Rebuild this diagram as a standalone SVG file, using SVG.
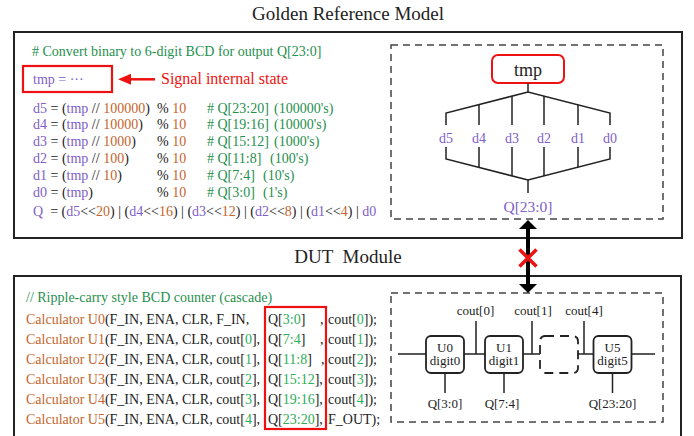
<svg xmlns="http://www.w3.org/2000/svg" width="694" height="436" viewBox="0 0 694 436">
<defs>
<style>
text{font-family:"Liberation Serif","Times New Roman",serif;fill:#222;}
.code{font-size:14px;}
.pu{fill:#8060c8;}
.or{fill:#c5652d;}
.gr{fill:#1f8f4e;}
.gn{fill:#2aae55;}
.rd{fill:#ee1111;}
.frame{fill:#fff;stroke:#222;stroke-width:2;}
.dash{fill:none;stroke:#444;stroke-width:1.5;stroke-dasharray:7 5;}
.wire{fill:none;stroke:#222;stroke-width:1.5;}
.blk{fill:#fff;stroke:#222;stroke-width:1.8;}
.lbl{font-size:13px;text-anchor:middle;}
</style>
<marker id="ahb" viewBox="0 0 10 10" refX="0" refY="5" markerWidth="9" markerHeight="18" markerUnits="userSpaceOnUse" orient="auto-start-reverse" preserveAspectRatio="none">
<path d="M0,0 L10,5 L0,10 z" fill="#000"/>
</marker>
<marker id="ahr" viewBox="0 0 10 10" refX="0" refY="5" markerWidth="13" markerHeight="11" markerUnits="userSpaceOnUse" orient="auto" preserveAspectRatio="none">
<path d="M0,0 L10,5 L0,10 z" fill="#ee1111"/>
</marker>
</defs>
<rect width="694" height="436" fill="#fff"/>

<g id="golden-title"><text x="348" y="20" font-size="19" text-anchor="middle">Golden Reference Model</text></g>
<g id="dut-title"><text x="348" y="263" font-size="19" text-anchor="middle" xml:space="preserve">DUT  Module</text></g>

<g id="golden-box">
<rect class="frame" x="14" y="32" width="668" height="206"/>
<text class="code gr" x="32" y="56">#&#160;Convert binary to 6-digit BCD for output Q[23:0]</text>
<rect x="23" y="66" width="89" height="26" fill="none" stroke="#ee1111" stroke-width="2.2"/>
<text class="code pu" x="33" y="84.3">tmp = ···</text>
<text class="rd" x="161" y="84.3" font-size="16">Signal internal state</text>

<g class="code">
<text x="33" y="112.5"><tspan class="pu">d5</tspan> = (<tspan class="pu">tmp</tspan> // <tspan class="or">100000</tspan>)</text>
<text x="157" y="112.5">% <tspan class="or">10</tspan></text>
<text class="gr" x="207" y="112.5">#&#160;Q[23:20]</text><text class="gr" x="274" y="112.5">(100000's)</text>

<text x="33" y="129.4"><tspan class="pu">d4</tspan> = (<tspan class="pu">tmp</tspan> // <tspan class="or">10000</tspan>)</text>
<text x="157" y="129.4">% <tspan class="or">10</tspan></text>
<text class="gr" x="207" y="129.4">#&#160;Q[19:16]</text><text class="gr" x="274" y="129.4">(10000's)</text>

<text x="33" y="146.3"><tspan class="pu">d3</tspan> = (<tspan class="pu">tmp</tspan> // <tspan class="or">1000</tspan>)</text>
<text x="157" y="146.3">% <tspan class="or">10</tspan></text>
<text class="gr" x="207" y="146.3">#&#160;Q[15:12]</text><text class="gr" x="274" y="146.3">(1000's)</text>

<text x="33" y="163.2"><tspan class="pu">d2</tspan> = (<tspan class="pu">tmp</tspan> // <tspan class="or">100</tspan>)</text>
<text x="157" y="163.2">% <tspan class="or">10</tspan></text>
<text class="gr" x="207" y="163.2">#&#160;Q[11:8]</text><text class="gr" x="270" y="163.2">(100's)</text>

<text x="33" y="180.1"><tspan class="pu">d1</tspan> = (<tspan class="pu">tmp</tspan> // <tspan class="or">10</tspan>)</text>
<text x="157" y="180.1">% <tspan class="or">10</tspan></text>
<text class="gr" x="207" y="180.1">#&#160;Q[7:4]</text><text class="gr" x="263" y="180.1">(10's)</text>

<text x="33" y="197"><tspan class="pu">d0</tspan> = (<tspan class="pu">tmp</tspan>)</text>
<text x="157" y="197">% <tspan class="or">10</tspan></text>
<text class="gr" x="207" y="197">#&#160;Q[3:0]</text><text class="gr" x="263" y="197">(1's)</text>

<text x="33" y="216" xml:space="preserve"><tspan class="pu">Q</tspan>  = (<tspan class="pu">d5</tspan>&lt;&lt;<tspan class="or">20</tspan>) | (<tspan class="pu">d4</tspan>&lt;&lt;<tspan class="or">16</tspan>) | (<tspan class="pu">d3</tspan>&lt;&lt;<tspan class="or">12</tspan>) | (<tspan class="pu">d2</tspan>&lt;&lt;<tspan class="or">8</tspan>) | (<tspan class="pu">d1</tspan>&lt;&lt;<tspan class="or">4</tspan>) | <tspan class="pu">d0</tspan></text>
</g>

<rect class="dash" x="391" y="45" width="272" height="174"/>
</g>

<g id="tmp-node">
<rect x="492" y="55" width="72" height="28" rx="6" fill="#fff" stroke="#ee1111" stroke-width="2"/>
<text x="528" y="76" font-size="18" text-anchor="middle">tmp</text>
</g>

<g id="digit-labels" font-size="14" text-anchor="middle">
<text class="pu" x="446" y="143">d5</text>
<text class="pu" x="479" y="143">d4</text>
<text class="pu" x="512" y="143">d3</text>
<text class="pu" x="544" y="143">d2</text>
<text class="pu" x="578" y="143">d1</text>
<text class="pu" x="610" y="143">d0</text>
</g>
<g id="q-output"><text class="pu" x="528" y="212" font-size="15.5" text-anchor="middle">Q[23:0]</text></g>

<g id="dut-box">
<rect class="frame" x="14" y="276" width="667" height="175"/>
<text class="code gr" x="26" y="302">// Ripple-carry style BCD counter (cascade)</text>
<g class="code">
<text x="26" y="324"><tspan class="or">Calculator U0</tspan>(F_IN, ENA, CLR, F_IN,</text>
<text x="268" y="324">Q[<tspan class="gn">3:0</tspan>]</text><text x="320" y="324">,</text><text x="328" y="324">cout[<tspan class="gn">0</tspan>]);</text>

<text x="26" y="343.9"><tspan class="or">Calculator U1</tspan>(F_IN, ENA, CLR, cout[<tspan class="gn">0</tspan>],</text>
<text x="268" y="343.9">Q[<tspan class="gn">7:4</tspan>]</text><text x="320" y="343.9">,</text><text x="328" y="343.9">cout[<tspan class="gn">1</tspan>]);</text>

<text x="26" y="363.8"><tspan class="or">Calculator U2</tspan>(F_IN, ENA, CLR, cout[<tspan class="gn">1</tspan>],</text>
<text x="268" y="363.8">Q[<tspan class="gn">11:8</tspan>]</text><text x="321" y="363.8">,</text><text x="328" y="363.8">cout[<tspan class="gn">2</tspan>]);</text>

<text x="26" y="383.7"><tspan class="or">Calculator U3</tspan>(F_IN, ENA, CLR, cout[<tspan class="gn">2</tspan>],</text>
<text x="268" y="383.7">Q[<tspan class="gn">15:12</tspan>],</text><text x="328" y="383.7">cout[<tspan class="gn">3</tspan>]);</text>

<text x="26" y="403.6"><tspan class="or">Calculator U4</tspan>(F_IN, ENA, CLR, cout[<tspan class="gn">3</tspan>],</text>
<text x="268" y="403.6">Q[<tspan class="gn">19:16</tspan>],</text><text x="328" y="403.6">cout[<tspan class="gn">4</tspan>]);</text>

<text x="26" y="423.5"><tspan class="or">Calculator U5</tspan>(F_IN, ENA, CLR, cout[<tspan class="gn">4</tspan>],</text>
<text x="268" y="423.5">Q[<tspan class="gn">23:20</tspan>],</text><text x="328" y="423.5">F_OUT);</text>
</g>
<rect x="265" y="307" width="61" height="122" fill="none" stroke="#ee1111" stroke-width="2.2"/>
<rect class="dash" x="391" y="293" width="272" height="129"/>
</g>

<g id="connectors">
<line x1="155" y1="79.3" x2="131" y2="79.3" stroke="#ee1111" stroke-width="2.5" marker-end="url(#ahr)"/>
<path class="wire" d="M528,83 V92"/>
<path class="wire" d="M446,125 V113 L528,92 L610,113 V125"/>
<path class="wire" d="M479,104.5 V125 M512,96.1 V125 M544,96.1 V125 M578,104.8 V125"/>
<path class="wire" d="M446,147 V159 L528,180 L610,159 V147"/>
<path class="wire" d="M479,147 V167.5 M512,147 V175.9 M544,147 V175.9 M578,147 V167.2"/>
<path class="wire" d="M528,180 V193"/>
<line x1="528" y1="229" x2="528" y2="284" stroke="#000" stroke-width="4" marker-start="url(#ahb)" marker-end="url(#ahb)"/>
<path d="M519.5,249.5 L536.5,266.5 M536.5,249.5 L519.5,266.5" stroke="#ee1111" stroke-width="3.5" fill="none"/>
<path class="wire" d="M398,354 H426 M464,354 H485 M523,354 H540 M578,354 H593.5 M631.5,354 H655"/>
<path class="wire" d="M476,321 V354 M532,321 V354 M584,321 V354"/>
<path class="wire" d="M445,373 V393 M504,373 V393 M612.5,373 V393"/>
</g>

<g id="U0"><rect class="blk" x="426" y="336" width="38" height="37" rx="5"/><text class="lbl" x="445" y="351.5">U0</text><text class="lbl" x="445" y="365">digit0</text></g>
<g id="U1"><rect class="blk" x="485" y="336" width="38" height="37" rx="5"/><text class="lbl" x="504" y="351.5">U1</text><text class="lbl" x="504" y="365">digit1</text></g>
<g id="Uellipsis"><rect x="540" y="336" width="38" height="37" rx="5" fill="#fff" stroke="#222" stroke-width="1.8" stroke-dasharray="9 6"/></g>
<g id="U5"><rect class="blk" x="593.5" y="336" width="38" height="37" rx="5"/><text class="lbl" x="612.5" y="351.5">U5</text><text class="lbl" x="612.5" y="365">digit5</text></g>
<g id="cout-labels">
<text class="lbl" x="475.5" y="315">cout[0]</text>
<text class="lbl" x="533" y="315">cout[1]</text>
<text class="lbl" x="584" y="315">cout[4]</text>
</g>
<g id="q-labels">
<text class="lbl" x="445" y="408">Q[3:0]</text>
<text class="lbl" x="502" y="408">Q[7:4]</text>
<text class="lbl" x="612.5" y="408">Q[23:20]</text>
</g>
</svg>
